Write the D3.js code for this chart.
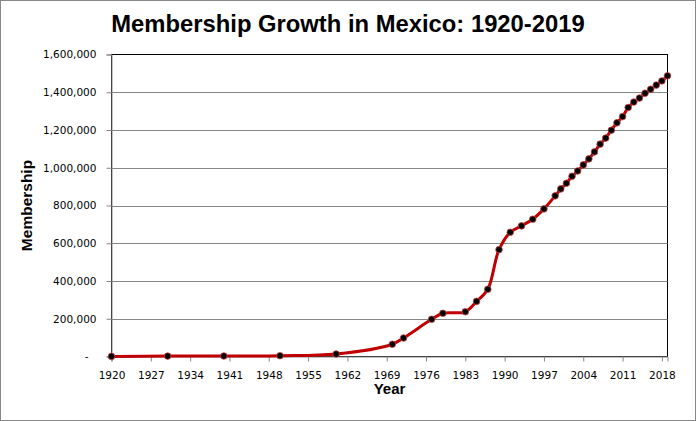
<!DOCTYPE html>
<html>
<head>
<meta charset="utf-8">
<script src="https://cdn.jsdelivr.net/npm/d3@7"></script>
<style>
  body { margin: 0; background: #fff; }
  svg { display: block; }
</style>
</head>
<body>
<div id="chart"></div>
<script>
// Data
const years = [1920, 1930, 1940, 1950, 1960, 1970, 1972, 1977, 1979, 1983, 1985, 1987, 1989, 1991,
  1993, 1995, 1997, 1999, 2000, 2001, 2002, 2003, 2004, 2005, 2006, 2007, 2008, 2009, 2010,
  2011, 2012, 2013, 2014, 2015, 2016, 2017, 2018, 2019];
const members = [500, 2000, 2500, 4000, 13000, 65000, 98000, 197000, 229000, 237000, 292000, 356000, 566000, 658000,
  692000, 727000, 782000, 851000, 888000, 918000, 955000, 983000, 1015000, 1047000, 1084000, 1125000, 1157000, 1199000, 1238000,
  1271000, 1319000, 1348000, 1369000, 1395000, 1416000, 1438000, 1460000, 1487000];
const xTicks = d3.range(1920, 2019, 7);
const yTicks = d3.range(0, 1600001, 200000);

const W = 696, H = 421;
const plotL = 111.5, plotR = 667.5, plotT = 54.5, plotB = 356.5;

const svg = d3.select("#chart").append("svg")
  .attr("width", W)
  .attr("height", H);

// outer chart border
svg.append("rect")
  .attr("x", 0.5).attr("y", 0.5)
  .attr("width", W - 1).attr("height", H - 1)
  .attr("fill", "#fff")
  .attr("stroke", "#888");

const x = d3.scaleLinear().domain([1920, 2019]).range([plotL, plotR]);
const y = d3.scaleLinear().domain([0, 1600000]).range([plotB, plotT]);

// plot area border
svg.append("rect")
  .attr("x", plotL).attr("y", plotT)
  .attr("width", plotR - plotL).attr("height", plotB - plotT)
  .attr("fill", "none")
  .attr("stroke", "#000");

// gridlines
svg.append("g")
  .selectAll("line")
  .data(yTicks.filter(d => d > 0 && d < 1600000))
  .enter().append("line")
  .attr("x1", plotL).attr("x2", plotR)
  .attr("y1", d => Math.round(y(d)) + 0.5)
  .attr("y2", d => Math.round(y(d)) + 0.5)
  .attr("stroke", "#868686");

// y axis
const yAxis = svg.append("g")
  .attr("transform", `translate(${plotL},0)`)
  .call(d3.axisLeft(y).tickValues(yTicks).tickSize(5).tickPadding(10)
    .tickFormat(d => d === 0 ? "-" : d3.format(",")(d)));
yAxis.select(".domain").attr("stroke", "#868686");
yAxis.selectAll(".tick line").attr("stroke", "#868686");
yAxis.selectAll("text")
  .attr("font-family", "DejaVu Sans, sans-serif")
  .attr("font-size", "10.5px")
  .attr("fill", "#000");
yAxis.selectAll(".tick").filter(d => d === 0).select("text").attr("dx", "-8");

// x axis
const xAxis = svg.append("g")
  .attr("transform", `translate(0,${plotB})`)
  .call(d3.axisBottom(x).tickValues(xTicks).tickSize(5).tickPadding(10)
    .tickFormat(d3.format("d")));
xAxis.select(".domain").attr("stroke", "#868686");
xAxis.selectAll(".tick line").attr("stroke", "#868686");
xAxis.selectAll("text")
  .attr("font-family", "DejaVu Sans, sans-serif")
  .attr("font-size", "10.5px")
  .attr("fill", "#000");

// line
const pts = years.map((yr, i) => [yr, members[i]]);
svg.append("path")
  .datum(pts)
  .attr("fill", "none")
  .attr("stroke", "#C00000")
  .attr("stroke-width", 3)
  .attr("stroke-linejoin", "round")
  .attr("d", d3.line()
    .x(d => x(d[0]))
    .y(d => y(d[1]))
    .curve(d3.curveCatmullRom.alpha(0.5)));

// markers
svg.append("g")
  .selectAll("circle")
  .data(pts)
  .enter().append("circle")
  .attr("cx", d => x(d[0]))
  .attr("cy", d => y(d[1]))
  .attr("r", 3.3)
  .attr("fill", "#000")
  .attr("stroke", "#D04040")
  .attr("stroke-width", 0.8);

// titles
svg.append("text")
  .attr("x", 348).attr("y", 32)
  .attr("text-anchor", "middle")
  .attr("font-family", "Liberation Sans, Arial, sans-serif")
  .attr("font-weight", "bold")
  .attr("font-size", "23.8px")
  .text("Membership Growth in Mexico: 1920-2019");

svg.append("text")
  .attr("x", (plotL + plotR) / 2).attr("y", 394)
  .attr("text-anchor", "middle")
  .attr("font-family", "Liberation Sans, Arial, sans-serif")
  .attr("font-weight", "bold")
  .attr("font-size", "15px")
  .text("Year");

svg.append("text")
  .attr("transform", `translate(32,${(plotT + plotB) / 2}) rotate(-90)`)
  .attr("text-anchor", "middle")
  .attr("font-family", "Liberation Sans, Arial, sans-serif")
  .attr("font-weight", "bold")
  .attr("font-size", "15.5px")
  .text("Membership");
</script>
</body>
</html>
